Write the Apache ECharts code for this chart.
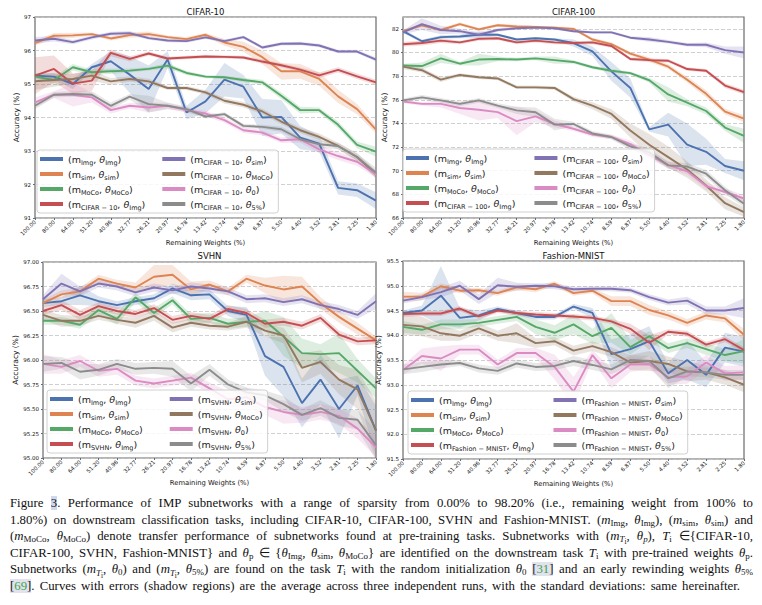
<!DOCTYPE html>
<html><head><meta charset="utf-8">
<script src="https://cdn.jsdelivr.net/npm/echarts@6/dist/echarts.min.js"></script>
<style>
html,body{margin:0;padding:0;background:#fff;}
#chart{position:absolute;left:0;top:0;width:762px;height:492px;}
#cap{position:absolute;left:10px;top:495px;width:743px;font-family:'Liberation Serif','Times New Roman',serif;font-size:12.8px;line-height:16.6px;color:#111;}
#cap div{text-align:justify;text-align-last:justify;}
#cap div.last{width:730px;}
#cap sub{font-size:70%;line-height:0;vertical-align:-0.25em;}
#cap sub sub{font-size:80%;}
.hl{background:#cfd8ef;}
.cite{background:#e2e2ee;}
.cite b{color:#3aa34a;font-weight:normal;}
</style></head><body>
<div id="chart"></div>
<div id="cap">
<div>Figure <span class="hl">3</span>. Performance of IMP subnetworks with a range of sparsity from 0.00% to 98.20% (i.e., remaining weight from 100% to</div>
<div>1.80%) on downstream classification tasks, including CIFAR-10, CIFAR-100, SVHN and Fashion-MNIST. (<i>m</i><sub>Img</sub>, <i>θ</i><sub>Img</sub>), (<i>m</i><sub>sim</sub>, <i>θ</i><sub>sim</sub>) and</div>
<div>(<i>m</i><sub>MoCo</sub>, <i>θ</i><sub>MoCo</sub>) denote transfer performance of subnetworks found at pre-training tasks. Subnetworks with (<i>m</i><sub><i>T</i><sub>i</sub></sub>, <i>θ</i><sub><i>p</i></sub>), <i>T</i><sub>i</sub> ∈{CIFAR-10,</div>
<div>CIFAR-100, SVHN, Fashion-MNIST} and <i>θ</i><sub>p</sub> ∈ {<i>θ</i><sub>Img</sub>, <i>θ</i><sub>sim</sub>, <i>θ</i><sub>MoCo</sub>} are identified on the downstream task <i>T</i><sub>i</sub> with pre-trained weights <i>θ</i><sub>p</sub>.</div>
<div>Subnetworks (<i>m</i><sub><i>T</i><sub>i</sub></sub>, <i>θ</i><sub>0</sub>) and (<i>m</i><sub><i>T</i><sub>i</sub></sub>, <i>θ</i><sub>5%</sub>) are found on the task <i>T</i><sub>i</sub> with the random initialization <i>θ</i><sub>0</sub> <span class="cite">[<b>31</b>]</span> and an early rewinding weights <i>θ</i><sub>5%</sub></div>
<div class="last"><span class="cite">[<b>69</b>]</span>. Curves with errors (shadow regions) are the average across three independent runs, with the standard deviations: same hereinafter.</div>
</div>
<script>
// ---------- tick labels ----------
const weights = ['100.00','80.00','64.00','51.20','40.96','32.77','26.21','20.97','16.78','13.42','10.74','8.59','6.87','5.50','4.40','3.52','2.81','2.25','1.80'];

// ---------- CIFAR-10 (mean, std) ----------
const c10Img   = [95.25,95.22,95.0,95.5,95.68,95.28,94.85,95.73,94.15,94.48,95.13,94.92,94.0,94.02,93.4,93.22,91.9,91.83,91.52];
const c10Sim   = [96.22,96.44,96.45,96.49,96.36,96.46,96.49,96.4,96.34,96.47,96.24,96.11,95.8,95.38,95.38,95.15,94.63,94.25,93.64];
const c10MoCo  = [95.22,95.12,95.5,95.35,95.38,95.4,95.45,95.55,95.33,95.22,95.2,95.12,95.05,94.65,94.22,94.22,93.78,93.18,92.98];
const c10TImg  = [95.25,95.45,95.01,95.1,95.93,95.75,95.91,95.76,95.79,95.82,95.81,95.79,95.67,95.56,95.43,95.26,95.42,95.23,95.05];
const c10TSim  = [96.3,96.35,96.25,96.39,96.5,96.52,96.37,96.3,96.28,96.39,96.28,96.4,96.09,96.2,96.21,96.15,95.97,95.97,95.73];
const c10TMoCo = [95.08,95.12,95.15,95.25,95.08,95.15,95.08,94.88,94.88,94.75,94.5,94.38,94.18,93.88,93.62,93.42,93.15,92.82,92.3];
const c10T0    = [94.45,94.68,94.68,94.6,94.22,94.35,94.3,94.35,94.22,94.12,93.92,93.62,93.55,93.32,93.35,93.05,92.85,92.68,92.3];
const c10T5    = [94.35,94.68,94.7,94.68,94.35,94.62,94.4,94.35,94.25,94.03,94.1,93.75,93.72,93.65,93.35,93.2,93.15,92.82,92.35];
const c10ImgSd   = [0.05,0.1,0.15,0.1,0.3,0.55,0.7,0.25,0.2,0.35,0.5,0.35,0.55,0.5,0.35,0.25,0.2,0.2,0.25];
const c10SimSd   = [0.08,0.08,0.08,0.05,0.06,0.08,0.08,0.05,0.06,0.05,0.1,0.15,0.2,0.25,0.22,0.2,0.2,0.15,0.12];
const c10MoCoSd  = [0.05,0.1,0.1,0.08,0.08,0.06,0.05,0.08,0.06,0.05,0.05,0.06,0.08,0.1,0.1,0.08,0.1,0.1,0.15];
const c10TImgSd  = [0.55,0.4,0.3,0.3,0.1,0.08,0.06,0.05,0.05,0.05,0.05,0.05,0.06,0.06,0.06,0.08,0.08,0.08,0.08];
const c10TSimSd  = [0.1,0.08,0.06,0.06,0.06,0.06,0.05,0.05,0.05,0.05,0.05,0.05,0.05,0.05,0.05,0.05,0.05,0.05,0.06];
const c10TMoCoSd = [0.25,0.2,0.15,0.15,0.1,0.08,0.08,0.06,0.06,0.06,0.08,0.08,0.08,0.08,0.08,0.1,0.1,0.12,0.12];
const c10T0Sd    = [0.15,0.1,0.35,0.15,0.1,0.08,0.15,0.08,0.08,0.08,0.08,0.08,0.08,0.08,0.1,0.12,0.12,0.12,0.1];
const c10T5Sd    = [0.1,0.08,0.08,0.1,0.1,0.08,0.25,0.1,0.08,0.06,0.06,0.06,0.06,0.08,0.08,0.1,0.1,0.1,0.15];

// ---------- CIFAR-100 ----------
const c100Img   = [81.8,80.95,81.3,81.35,81.5,81.5,81.1,81.2,81.1,80.8,80.1,78.4,77.0,73.5,73.9,72.2,71.6,70.4,70.0];
const c100Sim   = [81.8,82.3,81.9,82.4,81.95,82.3,82.2,82.15,82.1,82.0,81.1,80.7,79.9,79.4,78.8,77.7,76.5,75.0,74.4];
const c100MoCo  = [78.9,78.85,79.5,79.05,79.4,79.45,79.4,79.5,79.35,79.2,78.75,78.45,78.25,77.65,76.45,75.75,75.05,73.65,72.95];
const c100TImg  = [80.7,80.8,81.0,80.85,81.15,81.2,80.85,81.0,80.85,80.8,80.85,80.55,79.45,79.35,79.3,78.6,78.45,77.2,76.65];
const c100TSim  = [81.7,82.4,81.9,81.8,81.5,81.9,82.05,82.1,82.05,81.8,81.7,81.7,81.25,81.1,80.9,80.65,80.65,80.2,80.0];
const c100TMoCo = [78.8,78.5,77.7,78.1,77.9,77.8,77.05,77.05,77.0,76.05,75.5,74.8,73.4,72.2,71.15,70.1,68.75,67.25,66.5];
const c100T0    = [75.85,75.65,75.65,75.3,75.15,74.95,74.2,74.6,73.95,73.55,73.05,72.85,72.25,71.3,70.5,69.95,68.7,68.2,67.65];
const c100T5    = [75.95,76.2,75.95,75.65,75.95,75.5,75.1,74.95,73.9,73.95,73.15,72.85,72.05,71.55,70.45,70.35,69.75,68.35,67.2];
const c100ImgSd   = [0.15,0.15,0.15,0.15,0.3,0.1,0.1,0.1,0.1,0.3,0.4,0.8,0.8,0.2,1.0,1.8,1.1,0.6,0.8];
const c100SimSd   = [0.15,0.15,0.15,0.15,0.15,0.12,0.15,0.12,0.12,0.12,0.15,0.15,0.15,0.2,0.2,0.25,0.3,0.25,0.3];
const c100MoCoSd  = [0.15,0.3,0.4,0.15,0.5,0.2,0.15,0.15,0.3,0.15,0.15,0.15,0.15,0.2,0.6,0.3,0.3,0.3,0.6];
const c100TImgSd  = [0.2,0.2,0.2,0.15,0.15,0.15,0.15,0.15,0.15,0.15,0.15,0.15,0.15,0.15,0.15,0.15,0.15,0.2,0.2];
const c100TSimSd  = [0.15,0.5,0.35,0.2,0.2,0.15,0.12,0.12,0.12,0.12,0.12,0.12,0.12,0.2,0.15,0.15,0.2,0.3,0.5];
const c100TMoCoSd = [0.2,0.2,0.2,0.15,0.15,0.15,0.15,0.15,0.15,0.2,0.3,0.4,0.6,0.9,0.9,0.7,0.5,0.5,0.4];
const c100T0Sd    = [0.15,0.15,0.3,0.5,0.9,0.5,1.2,0.5,0.3,0.2,0.2,0.2,0.3,0.3,0.3,0.3,0.3,0.3,0.3];
const c100T5Sd    = [0.15,0.2,0.2,0.2,0.2,0.2,0.3,0.4,0.5,0.2,0.2,0.2,0.3,0.3,0.3,0.3,0.3,0.3,0.3];

// ---------- SVHN ----------
const svImg   = [96.58,96.6,96.66,96.6,96.56,96.6,96.63,96.73,96.66,96.67,96.5,96.46,96.04,95.93,95.56,95.8,95.5,95.74,95.28];
const svSim   = [96.58,96.67,96.7,96.83,96.78,96.74,96.85,96.87,96.72,96.77,96.7,96.83,96.76,96.72,96.75,96.58,96.44,96.32,96.2];
const svMoCo  = [96.4,96.4,96.36,96.51,96.42,96.64,96.48,96.61,96.42,96.43,96.37,96.39,96.4,96.24,96.07,96.06,96.07,95.89,95.71];
const svTImg  = [96.5,96.56,96.46,96.55,96.5,96.47,96.53,96.41,96.45,96.42,96.52,96.48,96.37,96.39,96.35,96.43,96.26,96.19,96.2];
const svTSim  = [96.62,96.78,96.7,96.78,96.75,96.69,96.74,96.71,96.75,96.73,96.7,96.62,96.63,96.59,96.62,96.56,96.52,96.46,96.6];
const svTMoCo = [96.46,96.4,96.4,96.45,96.41,96.38,96.45,96.33,96.38,96.35,96.34,96.39,96.3,96.25,95.92,95.98,95.8,95.7,95.28];
const svT0    = [95.96,95.93,95.99,95.89,95.91,95.79,95.76,95.79,95.82,95.71,95.6,95.62,95.52,95.47,95.44,95.47,95.43,95.3,95.11];
const svT5    = [95.96,95.97,95.88,95.9,95.96,95.91,95.92,95.91,95.76,95.9,95.75,95.67,95.64,95.55,95.44,95.51,95.41,95.39,95.13];
const svImgSd   = [0.04,0.04,0.1,0.05,0.04,0.04,0.04,0.05,0.05,0.05,0.05,0.08,0.2,0.3,0.25,0.25,0.3,0.1,0.25];
const svSimSd   = [0.04,0.04,0.04,0.04,0.04,0.05,0.12,0.1,0.08,0.04,0.04,0.04,0.08,0.14,0.1,0.06,0.06,0.06,0.04];
const svMoCoSd  = [0.04,0.04,0.04,0.05,0.06,0.05,0.05,0.04,0.05,0.05,0.05,0.05,0.1,0.2,0.15,0.1,0.2,0.12,0.1];
const svTImgSd  = [0.04,0.05,0.05,0.04,0.04,0.04,0.04,0.04,0.04,0.04,0.04,0.04,0.04,0.04,0.04,0.04,0.04,0.04,0.04];
const svTSimSd  = [0.04,0.1,0.05,0.04,0.04,0.04,0.04,0.04,0.04,0.04,0.04,0.04,0.04,0.04,0.04,0.04,0.04,0.04,0.08];
const svTMoCoSd = [0.05,0.06,0.05,0.04,0.04,0.05,0.05,0.05,0.04,0.04,0.04,0.06,0.06,0.08,0.15,0.12,0.15,0.2,0.3];
const svT0Sd    = [0.1,0.07,0.06,0.06,0.06,0.05,0.05,0.05,0.05,0.06,0.08,0.1,0.08,0.12,0.08,0.08,0.08,0.1,0.1];
const svT5Sd    = [0.08,0.06,0.08,0.06,0.05,0.06,0.06,0.08,0.08,0.06,0.05,0.05,0.05,0.08,0.06,0.08,0.08,0.1,0.15];

// ---------- Fashion-MNIST ----------
const fmImg   = [94.45,94.5,94.8,94.35,94.4,94.53,94.45,94.37,94.37,94.58,94.45,93.62,93.72,93.88,93.23,93.5,93.2,93.75,93.67];
const fmSim   = [94.78,94.78,94.99,94.9,94.91,94.85,94.97,94.93,95.04,94.85,94.9,94.69,94.69,94.51,94.4,94.25,94.4,94.34,94.01];
const fmMoCo  = [94.17,94.11,94.22,94.22,94.25,94.31,94.37,94.17,94.05,94.22,93.98,94.15,93.76,93.98,93.74,93.84,93.72,93.6,93.68];
const fmTImg  = [94.43,94.44,94.44,94.54,94.38,94.5,94.45,94.42,94.4,94.38,94.35,94.28,94.13,93.85,94.07,94.03,93.81,93.92,93.7];
const fmTSim  = [94.7,94.77,94.87,95.0,94.73,95.01,94.98,95.0,94.99,94.93,94.94,94.94,94.91,94.77,94.66,94.7,94.5,94.5,94.55];
const fmTMoCo = [94.21,94.18,94.04,93.99,94.14,93.99,94.04,93.84,93.88,93.69,93.78,93.66,93.45,93.48,93.42,93.27,93.25,93.15,93.0];
const fmT0    = [93.3,93.58,93.53,93.71,93.71,93.41,93.64,93.64,93.36,92.86,93.6,93.13,93.41,93.42,93.15,93.17,93.45,93.23,93.25];
const fmT5    = [93.31,93.36,93.41,93.44,93.33,93.28,93.43,93.36,93.38,93.48,93.4,93.31,93.5,93.48,93.13,93.27,93.25,93.2,93.2];
const fmImgSd   = [0.05,0.1,0.6,0.2,0.1,0.05,0.05,0.05,0.05,0.05,0.1,0.3,0.3,0.3,0.2,0.4,0.25,0.3,0.3];
const fmSimSd   = [0.1,0.08,0.06,0.05,0.05,0.05,0.06,0.06,0.05,0.05,0.05,0.1,0.1,0.1,0.08,0.08,0.08,0.08,0.12];
const fmMoCoSd  = [0.12,0.1,0.1,0.1,0.08,0.08,0.08,0.15,0.15,0.2,0.15,0.3,0.15,0.1,0.1,0.1,0.12,0.12,0.25];
const fmTImgSd  = [0.06,0.05,0.05,0.05,0.05,0.05,0.05,0.05,0.05,0.05,0.05,0.05,0.1,0.15,0.05,0.06,0.06,0.06,0.06];
const fmTSimSd  = [0.06,0.06,0.1,0.1,0.1,0.15,0.08,0.05,0.06,0.05,0.05,0.05,0.05,0.06,0.06,0.08,0.08,0.08,0.2];
const fmTMoCoSd = [0.2,0.2,0.15,0.1,0.1,0.1,0.2,0.1,0.08,0.1,0.1,0.1,0.15,0.2,0.15,0.2,0.15,0.15,0.15];
const fmT0Sd    = [0.1,0.15,0.25,0.1,0.1,0.1,0.1,0.1,0.25,0.3,0.1,0.2,0.15,0.1,0.15,0.15,0.15,0.15,0.15];
const fmT5Sd    = [0.1,0.1,0.08,0.06,0.08,0.08,0.08,0.08,0.08,0.1,0.1,0.1,0.1,0.1,0.2,0.1,0.1,0.1,0.1];

// ---------- labels ----------
const titles = ['CIFAR-10','CIFAR-100','SVHN','Fashion-MNIST'];
const taskSubs = ['CIFAR − 10','CIFAR − 100','SVHN','Fashion − MNIST'];
const mSubs = ['Img','sim','MoCo'];
const thetaSubs = ['Img','sim','MoCo','Img','sim','MoCo','0','5%'];
const yTicks = [{min:91,max:97,interval:1,dec:0},{min:66,max:83,interval:2,dec:0},{min:95,max:97,interval:0.25,dec:2},{min:91.5,max:95.5,interval:0.5,dec:1}];

const means = [
  [c10Img,c10Sim,c10MoCo,c10TImg,c10TSim,c10TMoCo,c10T0,c10T5],
  [c100Img,c100Sim,c100MoCo,c100TImg,c100TSim,c100TMoCo,c100T0,c100T5],
  [svImg,svSim,svMoCo,svTImg,svTSim,svTMoCo,svT0,svT5],
  [fmImg,fmSim,fmMoCo,fmTImg,fmTSim,fmTMoCo,fmT0,fmT5]
];
const sds = [
  [c10ImgSd,c10SimSd,c10MoCoSd,c10TImgSd,c10TSimSd,c10TMoCoSd,c10T0Sd,c10T5Sd],
  [c100ImgSd,c100SimSd,c100MoCoSd,c100TImgSd,c100TSimSd,c100TMoCoSd,c100T0Sd,c100T5Sd],
  [svImgSd,svSimSd,svMoCoSd,svTImgSd,svTSimSd,svTMoCoSd,svT0Sd,svT5Sd],
  [fmImgSd,fmSimSd,fmMoCoSd,fmTImgSd,fmTSimSd,fmTMoCoSd,fmT0Sd,fmT5Sd]
];

// ---------- layout / style ----------
const colors = ['#4C72B0','#DD8452','#55A868','#C44E52','#8172B3','#937860','#DA8BC3','#8C8C8C'];
const layout = [
  {grid:{left:35,top:17,width:341,height:201}, titleTop:7, leg:{left:37,top:150,gap:16}, yNameGap:13, xNameGap:21},
  {grid:{left:403,top:17,width:341,height:201}, titleTop:7, leg:{left:403,top:149,gap:18}, yNameGap:14, xNameGap:21},
  {grid:{left:43,top:262,width:333,height:196}, titleTop:251, leg:{left:47,top:390,gap:26}, yNameGap:19, xNameGap:21},
  {grid:{left:403,top:261,width:341,height:198}, titleTop:251, leg:{left:408,top:391,gap:18}, yNameGap:14, xNameGap:20}
];
const FONT = 'DejaVu Sans';
function rgba(hex, a) {
  const n = parseInt(hex.slice(1), 16);
  return 'rgba(' + ((n >> 16) & 255) + ',' + ((n >> 8) & 255) + ',' + (n & 255) + ',' + a + ')';
}
function bandRenderer(mean, sd, color) {
  return function (params, api) {
    const up = [], lo = [];
    for (let i = 0; i < mean.length; i++) {
      up.push(api.coord([i, mean[i] + sd[i]]));
      lo.push(api.coord([i, mean[i] - sd[i]]));
    }
    const cs = params.coordSys;
    return {
      type: 'polygon',
      shape: {points: up.concat(lo.reverse())},
      style: {fill: rgba(color, 0.2)},
      clipPath: {type: 'rect', shape: {x: cs.x, y: cs.y, width: cs.width, height: cs.height}}
    };
  };
}

const option = {animation:false, title:[], grid:[], xAxis:[], yAxis:[], legend:[], series:[]};
const labelText = {};

layout.forEach((L, gi) => {
  const g = L.grid;
  option.title.push({text: titles[gi], left: g.left + g.width / 2, top: L.titleTop, textAlign: 'center', padding: 0,
    textStyle: {fontFamily: FONT, fontSize: 8.5, fontWeight: 'normal', color: '#111'}});
  option.grid.push({left: g.left, top: g.top, width: g.width, height: g.height, show: true,
    borderColor: '#6a6a6a', borderWidth: 1.2, backgroundColor: '#fff'});
  option.xAxis.push({type: 'category', gridIndex: gi, data: weights, boundaryGap: false,
    name: 'Remaining Weights (%)', nameLocation: 'middle', nameGap: L.xNameGap,
    nameTextStyle: {fontFamily: FONT, fontSize: 6.8, color: '#111'},
    axisLine: {show: false}, axisTick: {show: true, length: 2, interval: 0, lineStyle: {color: '#6a6a6a'}},
    axisLabel: {rotate: 45, fontSize: 5.5, fontFamily: FONT, color: '#111', interval: 0, margin: 3},
    splitLine: {show: false}});
  const yt = yTicks[gi];
  option.yAxis.push({type: 'value', gridIndex: gi, min: yt.min, max: yt.max, interval: yt.interval,
    name: 'Accuracy (%)', nameLocation: 'middle', nameGap: L.yNameGap,
    nameTextStyle: {fontFamily: FONT, fontSize: 7.5, color: '#111'},
    axisLine: {show: false}, axisTick: {show: true, length: 2, lineStyle: {color: '#6a6a6a'}},
    axisLabel: {fontSize: 5.5, fontFamily: FONT, color: '#111', margin: 4, showMaxLabel: gi !== 1,
      formatter: v => v.toFixed(yt.dec)},
    splitLine: {show: true, lineStyle: {type: [4, 2], color: '#c4c4c4', width: 0.8}}});
  const names = [];
  means[gi].forEach((m, k) => {
    const name = 's' + gi + '_' + k;
    names.push(name);
    const ms = k < 3 ? mSubs[k] : taskSubs[gi];
    labelText[name] = '(m{s|' + ms + '}, {th|θ}{s|' + thetaSubs[k] + '})' + (k < 4 ? '{gap| }' : '');
    option.series.push({type: 'custom', xAxisIndex: gi, yAxisIndex: gi, data: [0], silent: true, z: 1,
      renderItem: bandRenderer(m, sds[gi][k], colors[k])});
    option.series.push({type: 'line', name: name, xAxisIndex: gi, yAxisIndex: gi, data: m, z: 2,
      symbol: 'none', showSymbol: false, silent: true,
      lineStyle: {width: 1.9, color: colors[k]}, itemStyle: {color: colors[k]}});
  });
  option.legend.push({data: names, orient: 'vertical', left: L.leg.left, top: L.leg.top, height: 66,
    icon: 'rect', itemWidth: 23, itemHeight: 4, itemGap: 1, selectedMode: false,
    itemStyle: {borderWidth: 0},
    backgroundColor: 'rgba(255,255,255,0.82)', borderColor: '#d0d0d0', borderWidth: 1, borderRadius: 3,
    padding: [2, 5, 2, 3],
    formatter: n => labelText[n],
    textStyle: {fontFamily: FONT, fontSize: 9.5, color: '#222', lineHeight: 14,
      rich: {
        s: {fontFamily: FONT, fontSize: 6.5, color: '#222', lineHeight: 9, verticalAlign: 'bottom'},
        th: {fontFamily: FONT, fontSize: 9.5, color: '#222', fontStyle: 'italic'},
        gap: {fontFamily: FONT, fontSize: 9.5, width: L.leg.gap}
      }}});
});

const chart = echarts.init(document.getElementById('chart'), null, {renderer: 'svg'});
chart.setOption(option);
</script>
</body></html>
